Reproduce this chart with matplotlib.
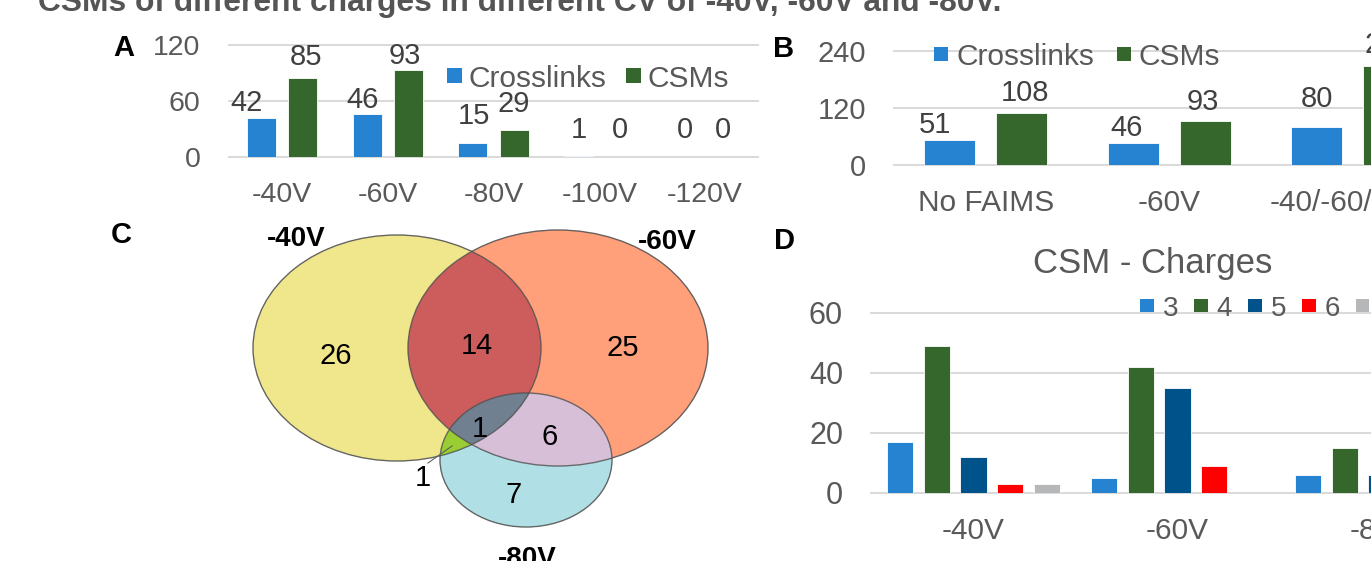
import matplotlib
matplotlib.use('Agg')
import matplotlib.pyplot as plt
import numpy as np
from matplotlib.patches import Ellipse, Rectangle

plt.rcParams['font.family'] = ['Liberation Sans', 'DejaVu Sans']

# ---------------- data ----------------
title_text = "CSMs of different charges in different CV of -40V, -60V and -80V."
series_names = ['Crosslinks', 'CSMs']

a_categories = ['-40V', '-60V', '-80V', '-100V', '-120V']
a_crosslinks = [42, 46, 15, 1, 0]
a_csms = [85, 93, 29, 0, 0]
a_yticks = [0, 60, 120]

b_categories = ['No FAIMS', '-60V', '-40/-60/-80V']
b_crosslinks = [51, 46, 80]
b_csms = [108, 93, 207]
b_yticks = [0, 120, 240]

d_title = 'CSM - Charges'
d_categories = ['-40V', '-60V', '-80V']
d_charges = ['3', '4', '5', '6', '7']
d_charge3 = [17, 5, 6]
d_charge4 = [49, 42, 15]
d_charge5 = [12, 35, 6]
d_charge6 = [3, 9, 2]
d_charge7 = [3, 0, 0]
d_yticks = [0, 20, 40, 60]

venn_sets = ['-40V', '-60V', '-80V']
venn_regions = ['100', '110', '010', '111', '011', '001', '101']
venn_counts = [26, 14, 25, 1, 6, 7, 1]

# ---------------- styles / layout ----------------
W, H, DPI = 1371, 561, 100
BLUE, GREEN, NAVY, RED, GREY = '#2683D1', '#35662B', '#00538A', '#FF0000', '#B6B7B9'
TXT = '#595959'
LBL = '#404040'
GRID = '#D9D9D9'

fig = plt.figure(figsize=(W / DPI, H / DPI), dpi=DPI)


def px_axes(left, top, right, bottom, **kw):
    return fig.add_axes([left / W, 1 - bottom / H, (right - left) / W, (bottom - top) / H], **kw)


def style(ax, yticks, xfs, yfs, xpad, ypad):
    ax.set_facecolor('none')
    for s in ax.spines.values():
        s.set_visible(False)
    ax.set_ylim(yticks[0], yticks[-1])
    ax.set_yticks(yticks)
    ax.yaxis.grid(True, color=GRID, lw=1.4)
    ax.set_axisbelow(True)
    ax.tick_params(axis='both', length=0, labelcolor=TXT)
    ax.tick_params(axis='x', labelsize=xfs, pad=xpad)
    ax.tick_params(axis='y', labelsize=yfs, pad=ypad)
    for gl in ax.get_ygridlines():
        gl.set_clip_on(False)


def pt(px):
    return px * 72.0 / DPI


# ---------------- Panel A ----------------
axA = px_axes(229, 45, 758, 157.3)
xa = np.arange(len(a_categories))
wA, oA = 0.274, 0.194
barsA1 = axA.bar(xa - oA, a_crosslinks, wA, color=BLUE, edgecolor='white', lw=0.6)
barsA2 = axA.bar(xa + oA, a_csms, wA, color=GREEN, edgecolor='white', lw=0.6)
axA.set_xlim(-0.5, len(a_categories) - 0.5)
axA.set_xticks(xa)
axA.set_xticklabels(a_categories)
style(axA, a_yticks, 20.5, 20.5, 17.5, 20.5)
a_off1 = [(-15, -15), (-5, -14), (1, -27), (0, -26), (0, -27)]
a_off2 = [(4, -21), (-3, -14), (0, -26), (0, -27), (-3, -27)]
for bars, vals, offs in ((barsA1, a_crosslinks, a_off1), (barsA2, a_csms, a_off2)):
    for b, v, (dx, dy) in zip(bars, vals, offs):
        axA.annotate(str(v), (b.get_x() + b.get_width() / 2, v), xytext=(pt(dx), pt(-dy)),
                     textcoords='offset points', ha='center', va='center', fontsize=21, color=LBL)

# ---------------- Panel B ----------------
axB = px_axes(894, 50.7, 894 + 3 * 183.5, 164.7)
xb = np.arange(len(b_categories))
wB, oB = 0.278, 0.196
barsB1 = axB.bar(xb - oB, b_crosslinks, wB, color=BLUE, edgecolor='white', lw=0.6)
barsB2 = axB.bar(xb + oB, b_csms, wB, color=GREEN, edgecolor='white', lw=0.6)
axB.set_xlim(-0.5, len(b_categories) - 0.5)
axB.set_xticks(xb)
axB.set_xticklabels(b_categories)
style(axB, b_yticks, 21.5, 21, 17.5, 20)
b_off1 = [(-15, -15.5), (-7, -14.5), (0, -28)]
b_off2 = [(3, -20), (-2, -19), (0, -21)]
for bars, vals, offs in ((barsB1, b_crosslinks, b_off1), (barsB2, b_csms, b_off2)):
    for b, v, (dx, dy) in zip(bars, vals, offs):
        axB.annotate(str(v), (b.get_x() + b.get_width() / 2, v), xytext=(pt(dx), pt(-dy)),
                     textcoords='offset points', ha='center', va='center', fontsize=21, color=LBL)

# ---------------- Panel D ----------------
axD = px_axes(871.5, 312.7, 871.5 + 3 * 204, 492.7)
xd = np.arange(len(d_categories))
wD, sD = 0.13, 0.18
d_series = [d_charge3, d_charge4, d_charge5, d_charge6, d_charge7]
d_colors = [BLUE, GREEN, NAVY, RED, GREY]
for i, (vals, c) in enumerate(zip(d_series, d_colors)):
    axD.bar(xd + (i - 2) * sD, vals, wD, color=c, edgecolor='white', lw=0.6)
axD.set_xlim(-0.5, len(d_categories) - 0.5)
axD.set_xticks(xd)
axD.set_xticklabels(d_categories)
style(axD, d_yticks, 21.5, 22, 17.5, 20.5)

# ---------------- overlay (texts, legends, venn) ----------------
ov = fig.add_axes([0, 0, 1, 1], zorder=5)
ov.set_xlim(0, W)
ov.set_ylim(H, 0)
ov.axis('off')
ov.set_facecolor('none')

renderer = fig.canvas.get_renderer()


def legend(x0, yc, names, colors, sq, gap, spacing, fs):
    x = x0
    for n, c in zip(names, colors):
        ov.add_patch(Rectangle((x, yc - sq / 2), sq, sq, color=c, lw=0))
        x += sq + gap
        t = ov.text(x, yc, n, fontsize=fs, color=TXT, ha='left', va='center_baseline')
        x += t.get_window_extent(renderer).width + spacing


legend(447, 75.5, series_names, [BLUE, GREEN], 15, 7, 19, 21.5)
legend(934, 54, series_names, [BLUE, GREEN], 14, 8, 23, 21.5)
legend(1140, 305.5, d_charges, d_colors, 13.5, 9, 16, 20)

ov.text(1153, 260, d_title, fontsize=25, color=TXT, ha='center', va='center_baseline')

# panel letters
for letter, (x, y) in zip('ABCD', [(124, 45), (784, 46), (121, 232), (785, 238)]):
    ov.text(x, y, letter, fontsize=21, fontweight='bold', color='black', ha='center', va='center_baseline')

# top title (fit to width)
tt = ov.text(38, 11, title_text, fontsize=20, fontweight='bold', color='#555555', ha='left', va='baseline')
wpx = tt.get_window_extent(renderer).width
tt.set_fontsize(20 * 965.0 / wpx)

# venn diagram
ellipses = [(397, 348, 144, 113), (558, 348, 150, 118), (526, 460, 86, 67)]
region_colors = {'100': '#F0E68C', '010': '#FFA07A', '001': '#B0E0E6',
                 '110': '#CD5C5C', '011': '#D8BFD8', '101': '#9ACD32', '111': '#708090'}
vx0, vx1, vy0, vy1 = 230, 740, 215, 561
step = 0.5
xs = np.arange(vx0, vx1, step) + step / 2
ys = np.arange(vy0, vy1, step) + step / 2
X, Y = np.meshgrid(xs, ys)
masks = [((X - cx) / a) ** 2 + ((Y - cy) / b) ** 2 <= 1 for cx, cy, a, b in ellipses]
img = np.zeros(X.shape + (4,))
for code, col in region_colors.items():
    m = np.ones(X.shape, bool)
    for k, ch in enumerate(code):
        m &= masks[k] if ch == '1' else ~masks[k]
    img[m] = matplotlib.colors.to_rgba(col)
ov.imshow(img, extent=[vx0, vx1, vy1, vy0], origin='upper', interpolation='antialiased', aspect='auto', zorder=1)
ov.set_xlim(0, W)
ov.set_ylim(H, 0)
for cx, cy, a, b in ellipses:
    ov.add_patch(Ellipse((cx, cy), 2 * a, 2 * b, fill=False, ec='#505050', lw=1.0, alpha=0.8, zorder=2))

venn_label_pos = [(336, 353), (477, 343), (623, 345), (480, 426), (550, 434), (514, 492), (423, 475)]
for n, (x, y) in zip(venn_counts, venn_label_pos):
    ov.text(x, y, str(n), fontsize=21, color='black', ha='center', va='center_baseline', zorder=3)
ov.plot([428, 452], [463, 446], color='#606060', lw=0.8, zorder=3)

for name, (x, y) in zip(venn_sets, [(296, 236), (667, 239), (527, 556)]):
    ov.text(x, y, name, fontsize=20, fontweight='bold', color='black', ha='center', va='center_baseline', zorder=3)

fig.savefig('out.png', dpi=DPI)
